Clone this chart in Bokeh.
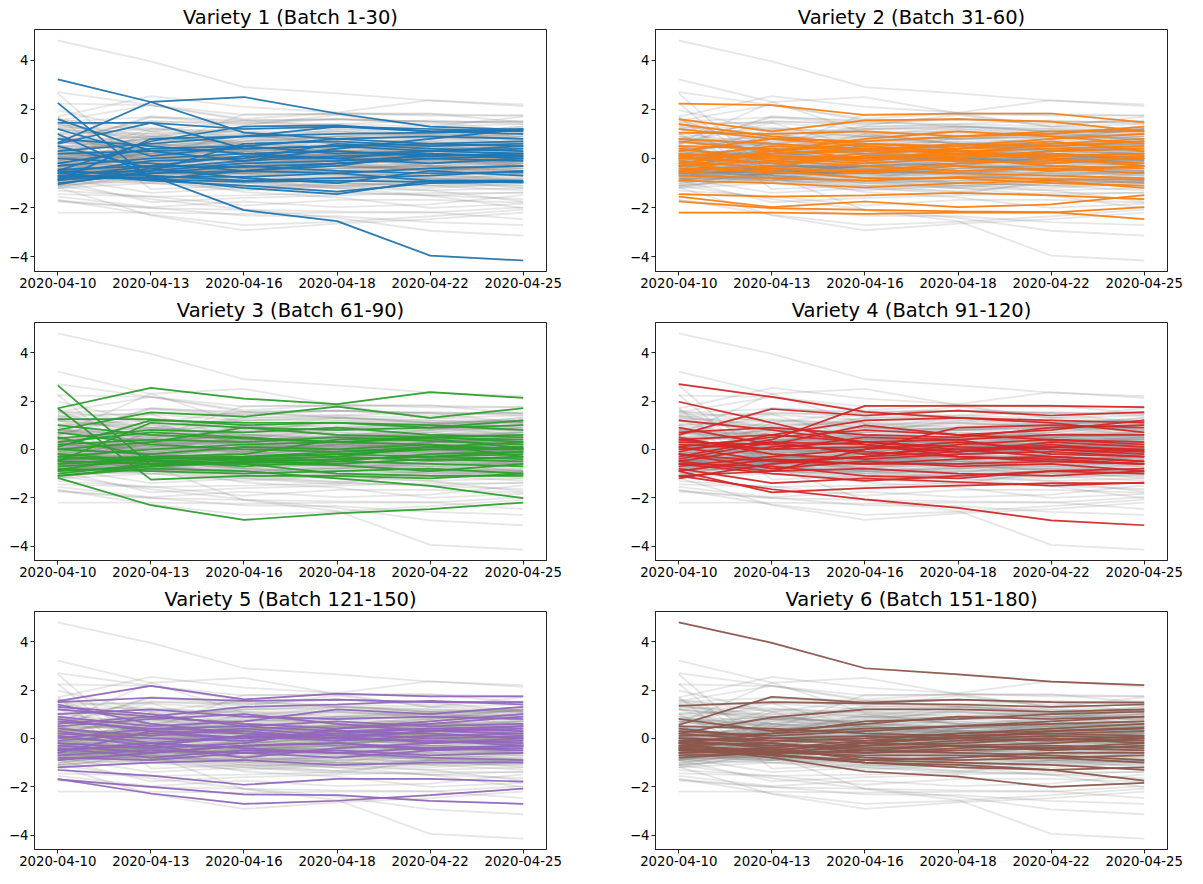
from bokeh.plotting import figure
from bokeh.layouts import column, row
from bokeh.models import FixedTicker, Range1d, ColumnDataSource
from bokeh.embed import file_html
from bokeh.resources import INLINE

dates = ["2020-04-10", "2020-04-13", "2020-04-16", "2020-04-18", "2020-04-22", "2020-04-25"]
titles = ["Variety 1 (Batch 1-30)", "Variety 2 (Batch 31-60)", "Variety 3 (Batch 61-90)",
          "Variety 4 (Batch 91-120)", "Variety 5 (Batch 121-150)", "Variety 6 (Batch 151-180)"]
colors = ["#1f77b4", "#ff7f0e", "#2ca02c", "#d62728", "#9467bd", "#8c564b"]
yticks = [-4, -2, 0, 2, 4]

variety1 = [
    [3.22, 2.3, 1.05, 0.8, 0.6, 0.5], [2.26, -0.85, -0.5, -0.3, 0.2, 0.1],
    [0.63, 2.3, 2.5, 1.83, 1.3, 1.17], [1.0, -0.7, -2.1, -2.55, -3.95, -4.15],
    [1.45, 1.45, 0.4, 0.5, 0.3, 0.2], [0.6, 1.45, 1.2, 1.3, 1.1, 1.2],
    [-0.5, 0.7, 1.3, 1.35, 1.1, 1.0], [-0.9, 0.8, 0.9, 1.3, 1.2, 1.1],
    [-0.7, -0.8, -1.2, -1.45, -0.9, -0.9], [-0.6, -0.9, -1.1, -1.35, -1.0, -0.95],
    [-1.05, -0.5, -0.2, -0.1, 0.1, 0.2], [-0.8, -0.6, -0.5, -0.6, -0.4, -0.3],
    [-0.5, -0.7, -0.9, -0.8, -0.7, -0.5], [-0.3, 0.0, 0.2, 0.3, 0.1, 0.2],
    [0.2, 0.3, 0.4, 0.5, 0.6, 0.7], [0.8, 0.5, 0.2, 0.0, 0.3, 0.4],
    [-0.7, -0.85, -0.95, -0.9, -0.95, -0.95], [-1.0, -0.6, -0.3, -0.5, -0.6, -0.55],
    [0.0, -0.2, -0.5, -0.2, 0.0, -0.1], [-0.45, -0.3, 0.1, 0.0, -0.2, 0.0],
    [1.2, 0.1, 0.5, 0.8, 0.9, 0.8], [-0.6, -0.5, 0.6, 0.7, 0.5, 0.6],
    [-0.85, -0.75, -0.75, -0.6, -0.9, -0.95], [0.5, -0.4, -0.1, 0.4, 0.8, 1.2],
    [-0.2, 0.4, 0.5, 0.2, 0.3, 0.5], [-0.9, -0.4, -0.8, -1.0, -0.5, -0.7],
    [1.6, 0.3, -0.1, 0.1, 0.2, 0.0], [-0.6, -0.1, 0.0, 0.6, 0.4, 0.3],
    [0.3, 0.6, 0.9, 1.0, 1.05, 1.15], [-0.75, -0.3, -0.35, -0.2, 0.0, 0.1],
]
variety2 = [
    [2.23, 2.17, 1.77, 1.83, 1.83, 1.47], [1.6, 1.1, 1.55, 1.6, 1.5, 1.1],
    [1.4, 0.9, 0.6, 0.4, 0.5, 0.7], [1.05, 1.0, 1.1, 0.9, 1.1, 1.1],
    [-1.55, -1.98, -1.75, -1.98, -1.87, -1.49], [-1.75, -2.02, -2.09, -2.15, -2.18, -2.47],
    [-2.2, -2.2, -2.25, -2.2, -2.2, -1.98], [-1.45, -1.55, -1.5, -1.4, -1.5, -1.65],
    [-0.9, -1.0, -1.18, -1.0, -0.9, -1.2], [-0.4, -0.5, -0.8, -0.8, -1.0, -1.1],
    [-0.7, -0.8, -0.9, -0.75, -0.85, -0.85], [0.0, 0.2, 0.3, 0.3, 0.4, 0.5],
    [0.1, -0.2, 0.1, 0.2, 0.1, 0.2], [-0.2, 0.3, 0.6, 0.5, 0.8, 1.0],
    [0.5, 0.4, 0.0, 0.1, 0.2, 0.0], [-0.3, -0.1, -0.3, -0.5, -0.4, -0.6],
    [0.3, 0.8, 0.7, 0.9, 1.0, 1.3], [-0.1, -0.4, -0.5, -0.2, -0.1, 0.0],
    [0.8, 0.6, 0.4, 0.2, 0.0, -0.3], [0.2, 0.0, -0.2, 0.0, 0.3, 0.4],
    [-0.5, -0.3, 0.1, 0.0, -0.3, -0.4], [0.05, 0.5, 0.35, 0.6, 0.5, 0.7],
    [-0.2, -0.6, -0.45, -0.6, -0.7, -0.8], [1.2, 0.8, 0.5, 0.3, 0.1, 0.2],
    [0.0, 0.1, -0.1, 0.2, 0.0, -0.2], [-0.3, 0.2, 0.4, 0.2, 0.6, 0.8],
    [0.4, -0.1, 0.2, 0.4, 0.7, 0.3], [-0.6, -0.4, -0.6, -0.3, -0.5, -0.3],
    [0.7, 0.3, 0.8, 1.1, 0.9, 0.6], [0.15, 0.1, 0.0, -0.1, -0.2, 0.1],
]
variety3 = [
    [2.65, -0.65, -0.5, -0.4, -0.3, -0.2], [1.7, -1.25, -1.1, -1.1, -1.2, -1.0],
    [1.7, 2.54, 2.1, 1.87, 2.37, 2.13], [-1.18, -2.31, -2.92, -2.65, -2.47, -2.2],
    [-1.1, -0.8, -0.9, -1.2, -1.51, -2.02], [0.8, 1.53, 1.35, 1.77, 1.3, 1.7],
    [1.25, 1.25, 1.0, 1.1, 0.9, 1.2], [0.1, 1.2, 1.1, 1.1, 1.0, 0.8],
    [-0.5, 1.1, 0.9, 0.6, 0.5, 0.4], [0.5, -0.3, -0.4, -0.3, 0.1, 0.0],
    [-0.3, -0.5, -0.35, -0.2, -0.3, -0.1], [-0.9, -0.7, -0.5, -0.6, -0.4, -0.5],
    [-0.6, -0.4, -0.3, -0.2, 0.0, 0.1], [0.0, -0.2, 0.1, 0.0, 0.2, 0.0],
    [-1.0, -0.6, -0.6, -1.0, -1.1, -1.1], [-0.4, -0.3, -0.2, 0.4, 0.5, 0.6],
    [0.3, 0.7, 0.5, 0.3, 0.2, -0.3], [-0.8, -0.9, -1.0, -0.9, -0.8, -1.0],
    [-1.1, -0.7, -0.55, -0.4, -0.3, -0.4], [0.45, 0.8, 0.7, 0.9, 0.6, 0.5],
    [-0.2, -0.45, -0.7, -0.5, -0.6, -0.7], [0.2, 0.4, 0.3, 0.5, 0.35, 0.2],
    [-0.5, -0.6, -0.4, -0.5, -0.2, -0.1], [-0.7, -0.5, -0.6, -0.65, -0.9, -0.6],
    [0.7, 0.2, 0.0, -0.1, 0.0, 0.0], [-0.3, 0.0, 0.2, 0.3, 0.5, 0.3],
    [-0.6, -0.35, -0.3, -0.1, 0.1, 0.3], [0.0, 0.3, 0.9, 0.8, 0.9, 1.0],
    [-0.85, -0.3, -0.45, -0.3, -0.45, -0.3], [1.0, 0.6, 0.45, 0.3, 0.45, 0.05],
]
variety4 = [
    [2.7, 2.17, 1.55, 1.3, 1.2, 1.1], [1.97, 1.1, 0.2, -0.3, -0.5, -0.6],
    [-1.1, -1.65, -2.07, -2.42, -2.94, -3.14], [-0.9, -1.78, -1.6, -1.5, -1.4, -1.4],
    [-0.3, 0.4, 1.8, 1.8, 1.8, 1.75], [0.6, 1.67, 1.4, 1.6, 1.4, 1.54],
    [0.9, 0.2, 0.99, 0.6, 0.8, 1.2], [-0.5, -0.9, 0.0, 0.9, 1.0, 0.9],
    [-1.2, -0.6, -0.3, -0.1, 0.2, -0.1], [0.4, 0.6, 0.3, 0.0, -0.3, -0.5],
    [-0.6, -0.7, -1.1, -1.2, -0.9, -0.8], [-0.2, -0.5, -0.6, -0.6, -0.5, -0.6],
    [0.1, 0.5, 0.8, 0.6, 0.4, 0.2], [-0.8, -1.4, -1.2, -1.35, -1.5, -1.38],
    [0.0, 0.3, -0.2, 0.0, 0.1, 0.0], [-0.4, 0.3, 0.2, -0.1, 0.3, 0.1],
    [0.5, -0.2, -0.4, -0.2, -0.1, -0.3], [-0.7, -0.3, 0.0, 0.3, 0.0, -0.2],
    [0.2, 0.0, 0.5, 0.4, 0.6, 0.6], [-1.1, -0.9, -0.8, -1.0, -1.1, -0.9],
    [0.7, 0.9, 0.6, 0.5, 0.9, 1.0], [-0.5, 0.1, 0.3, 0.4, -0.2, -0.3],
    [1.2, 0.8, 0.3, 0.1, 0.0, -0.1], [-0.2, -0.8, -0.5, -0.7, -0.6, -0.9],
    [0.3, 0.2, -0.1, -0.3, -0.4, -0.6], [-0.9, -0.4, -0.6, -0.4, -0.3, -0.5],
    [0.1, -0.5, -0.3, 0.2, 0.4, 0.3], [-0.1, 0.6, 1.2, 1.3, 1.1, 0.7],
    [-0.6, -1.0, -1.3, -1.1, -0.9, -1.0], [0.4, 0.0, 0.1, -0.1, 0.1, -0.05],
]
variety5 = [
    [1.54, 2.17, 1.61, 1.85, 1.74, 1.74], [1.5, 1.68, 1.55, 1.6, 1.5, 1.5],
    [-1.68, -2.28, -2.71, -2.58, -2.35, -2.08], [-1.7, -2.01, -2.32, -2.35, -2.59, -2.71],
    [-1.31, -1.54, -1.92, -1.68, -1.68, -1.79], [-1.2, -1.0, -0.9, -1.1, -1.0, -1.0],
    [1.2, 0.9, 1.3, 1.4, 1.55, 1.4], [0.9, 0.5, 0.7, 1.2, 1.0, 1.3],
    [0.5, 0.8, 1.0, 0.6, 0.3, 0.5], [1.4, 0.6, 0.2, 0.1, 0.3, 0.2],
    [-0.5, -0.2, 0.1, 0.0, 0.3, 0.4], [-0.3, -0.6, -0.3, -0.2, -0.5, -0.4],
    [-0.7, -0.5, -0.6, -0.8, -0.5, -0.3], [0.2, 0.0, -0.1, 0.2, 0.0, 0.1],
    [0.7, 0.4, 0.3, 0.0, -0.1, -0.3], [-0.8, -0.9, -0.6, -0.5, -0.7, -0.6],
    [0.0, 0.4, 0.5, 0.7, 0.5, 0.6], [1.0, 1.2, 0.9, 0.8, 0.9, 0.8],
    [-0.5, -0.3, -0.8, -0.4, -0.2, 0.0], [0.3, -0.2, -0.4, -0.6, -0.8, -0.9],
    [-0.1, 0.2, 0.0, 0.3, 0.2, 0.0], [0.6, 0.9, 0.6, 0.4, 0.6, 0.9],
    [-0.9, -0.6, -0.3, -0.2, -0.4, -0.5], [0.4, 0.1, 0.4, 0.1, -0.2, -0.1],
    [1.3, 1.0, 0.5, 0.3, 0.4, 0.3], [-0.4, -0.8, -0.5, -0.6, -0.4, -0.3],
    [0.1, -0.3, 0.1, -0.1, 0.1, 0.2], [-0.6, 0.3, 0.2, 0.0, -0.1, -0.2],
    [0.8, 0.3, 0.0, 0.2, 0.4, 0.5], [-0.2, -0.4, -0.2, 0.4, 0.7, 1.0],
]
variety6 = [
    [4.8, 3.95, 2.9, 2.65, 2.35, 2.2], [0.55, 1.72, 1.48, 1.6, 1.5, 1.48],
    [1.34, 1.5, 1.45, 1.4, 1.3, 1.4], [0.2, 0.87, 1.2, 1.2, 1.1, 1.2],
    [-0.4, -0.8, -1.37, -1.58, -2.01, -1.84], [-0.2, -0.7, -1.0, -1.1, -1.3, -1.75],
    [0.8, 0.3, 0.6, 0.9, 0.8, 0.9], [-0.5, -0.4, -0.9, -1.0, -1.1, -1.3],
    [-0.6, -0.5, -0.8, -0.9, -0.8, -0.7], [-0.3, -0.2, -0.6, -0.5, -0.4, -0.5],
    [0.0, -0.1, 0.0, 0.2, 0.3, 0.4], [-0.1, -0.4, -0.1, 0.0, 0.1, 0.0],
    [0.3, 0.1, 0.3, 0.5, 0.6, 0.7], [-0.4, -0.6, -0.3, -0.1, 0.0, -0.2],
    [-0.7, -0.6, -0.7, -0.7, -0.8, -1.0], [0.1, 0.2, 0.7, 0.8, 1.0, 1.1],
    [-0.2, -0.3, -0.4, -0.3, -0.5, -0.3], [-0.5, -0.7, -0.9, -0.8, -0.6, -0.6],
    [0.5, 0.4, 0.2, 0.1, 0.2, 0.3], [-0.3, -0.5, -0.2, 0.1, 0.2, 0.1],
    [-0.8, -0.6, -0.5, -0.3, -0.4, -0.2], [0.0, -0.2, -0.5, -0.6, -0.7, -0.9],
    [-0.1, 0.0, 0.1, 0.0, -0.1, 0.1], [-0.6, -0.5, -0.2, -0.3, -0.2, 0.0],
    [0.4, 0.0, -0.1, 0.2, 0.4, 0.6], [-0.35, -0.55, -0.6, -0.4, -0.3, -0.4],
    [-0.2, 0.2, 0.4, 0.5, 0.7, 0.9], [-0.45, -0.65, -1.0, -1.2, -1.3, -1.2],
    [-0.1, -0.3, -0.3, -0.2, 0.0, -0.1], [0.2, -0.1, -0.2, 0.0, 0.3, 0.45],
]

varieties = [variety1, variety2, variety3, variety4, variety5, variety6]
xpos = list(range(len(dates)))
all_lines = [ln for v in varieties for ln in v]
ymin = min(min(l) for l in all_lines)
ymax = max(max(l) for l in all_lines)
pad = 0.05 * (ymax - ymin)
FONT = "DejaVu Sans"

figs = []
for i, (vals, col, ttl) in enumerate(zip(varieties, colors, titles)):
    left = (i % 2 == 0)
    first_row = i < 2
    p = figure(output_backend="svg", toolbar_location=None,
               width=602 if left else 583, height=295 if first_row else 289,
               min_border_left=34 if left else 53,
               min_border_right=56 if left else 18,
               min_border_top=29 if first_row else 23, min_border_bottom=24,
               x_range=Range1d(-0.25, len(dates) - 0.75),
               y_range=Range1d(ymin - pad, ymax + pad),
               title=ttl)
    p.title.text_font = FONT
    p.title.text_font_size = "19.5px"
    p.title.text_font_style = "normal"
    p.title.text_color = "black"
    p.title.align = "center"
    p.title.standoff = 2
    p.xgrid.visible = False
    p.ygrid.visible = False
    p.outline_line_color = "#222222"
    p.outline_line_width = 1
    p.outline_line_alpha = 1
    for ax in (p.xaxis[0], p.yaxis[0]):
        ax.axis_line_color = "#222222"
        ax.major_tick_line_color = "#222222"
        ax.major_tick_out = 4
        ax.major_tick_in = 0
        ax.minor_tick_line_color = None
        ax.major_label_text_font = FONT
        ax.major_label_text_font_size = "13.3px"
        ax.major_label_text_color = "black"
        ax.major_label_standoff = 2
    p.xaxis.ticker = FixedTicker(ticks=xpos)
    p.xaxis.major_label_overrides = {k: d for k, d in zip(xpos, dates)}
    p.yaxis.ticker = FixedTicker(ticks=yticks)
    p.yaxis.major_label_overrides = {t: str(t).replace("-", "\u2212") for t in yticks}

    grey_src = ColumnDataSource(dict(xs=[xpos] * len(all_lines), ys=all_lines))
    p.multi_line("xs", "ys", source=grey_src, line_color="grey", line_alpha=0.2, line_width=1.8)
    src = ColumnDataSource(dict(xs=[xpos] * len(vals), ys=vals))
    p.multi_line("xs", "ys", source=src, line_color=col, line_alpha=0.95, line_width=1.7)
    figs.append(p)

layout = column(row(figs[0], figs[1]), row(figs[2], figs[3]), row(figs[4], figs[5]))
open("out.html", "w").write(file_html(layout, INLINE))
